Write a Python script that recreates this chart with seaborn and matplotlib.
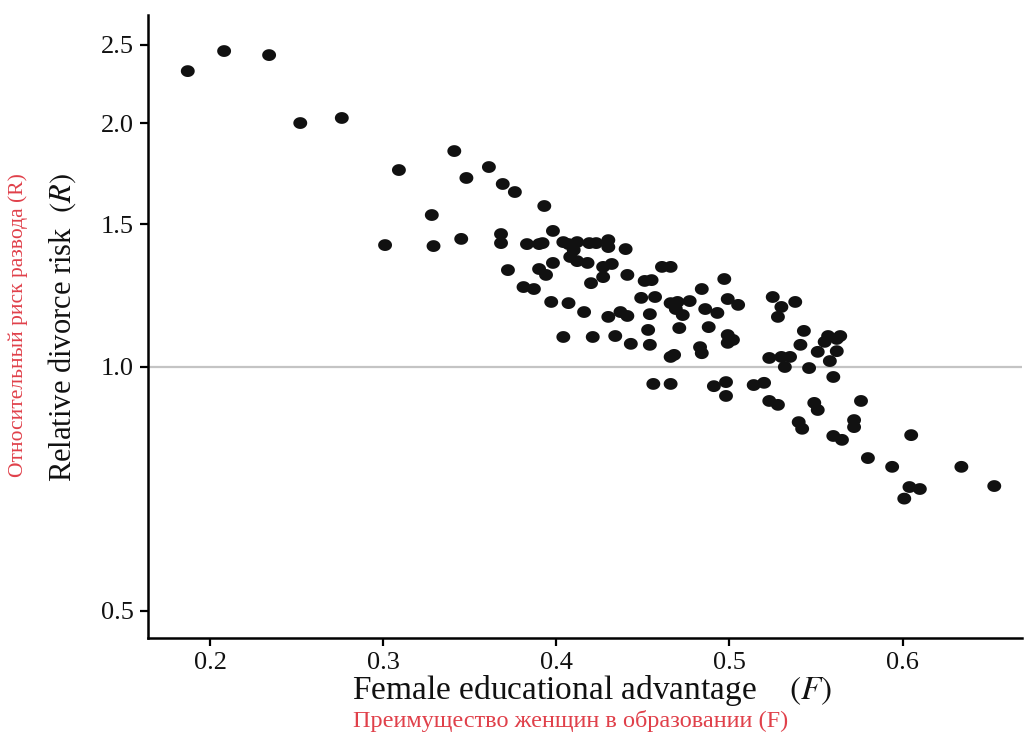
import numpy as np
import pandas as pd
import matplotlib
matplotlib.use("Agg")
import matplotlib.pyplot as plt
import seaborn as sns
from matplotlib.ticker import FixedLocator, FixedFormatter, NullLocator

# Female educational advantage (F)
F = [0.187, 0.208, 0.234, 0.252, 0.276, 0.309, 0.301, 0.341, 0.348, 0.361,
     0.369, 0.376, 0.393, 0.328, 0.398, 0.329, 0.345, 0.368, 0.368, 0.383,
     0.390, 0.392, 0.404, 0.407, 0.408, 0.412, 0.410, 0.412, 0.418, 0.419,
     0.423, 0.430, 0.430, 0.440, 0.398, 0.372, 0.390, 0.394, 0.427, 0.432,
     0.427, 0.420, 0.441, 0.381, 0.387, 0.397, 0.407, 0.416, 0.430, 0.437,
     0.441, 0.451, 0.455, 0.461, 0.466, 0.449, 0.457, 0.466, 0.470, 0.469,
     0.473, 0.477, 0.484, 0.497, 0.499, 0.505, 0.486, 0.493, 0.454, 0.488,
     0.471, 0.453, 0.434, 0.443, 0.454, 0.404, 0.421, 0.499, 0.499, 0.502,
     0.466, 0.468, 0.483, 0.484, 0.456, 0.466, 0.491, 0.498, 0.498, 0.525,
     0.530, 0.528, 0.538, 0.543, 0.541, 0.523, 0.530, 0.535, 0.532, 0.546,
     0.551, 0.557, 0.555, 0.562, 0.564, 0.562, 0.558, 0.560, 0.514, 0.520,
     0.523, 0.528, 0.549, 0.551, 0.540, 0.542, 0.576, 0.572, 0.572, 0.560,
     0.565, 0.605, 0.580, 0.594, 0.634, 0.604, 0.610, 0.601, 0.653]

# Relative divorce risk (R)
R = [2.318, 2.454, 2.426, 2.000, 2.029, 1.750, 1.414, 1.847, 1.711, 1.765,
     1.682, 1.644, 1.580, 1.540, 1.472, 1.410, 1.439, 1.459, 1.422, 1.418,
     1.418, 1.422, 1.426, 1.418, 1.367, 1.426, 1.394, 1.351, 1.344, 1.422,
     1.422, 1.434, 1.406, 1.398, 1.344, 1.317, 1.321, 1.299, 1.329, 1.340,
     1.291, 1.269, 1.299, 1.255, 1.248, 1.203, 1.199, 1.169, 1.153, 1.169,
     1.156, 1.277, 1.280, 1.329, 1.329, 1.217, 1.220, 1.199, 1.203, 1.179,
     1.159, 1.206, 1.248, 1.284, 1.213, 1.193, 1.179, 1.166, 1.162, 1.120,
     1.117, 1.111, 1.092, 1.068, 1.065, 1.089, 1.089, 1.095, 1.071, 1.080,
     1.029, 1.035, 1.058, 1.040, 0.953, 0.953, 0.947, 0.958, 0.921, 1.220,
     1.186, 1.153, 1.203, 1.108, 1.065, 1.026, 1.029, 1.029, 1.000, 0.997,
     1.044, 1.092, 1.074, 1.083, 1.092, 1.046, 1.017, 0.972, 0.950, 0.956,
     0.908, 0.898, 0.903, 0.885, 0.855, 0.839, 0.908, 0.860, 0.843, 0.822,
     0.813, 0.824, 0.772, 0.753, 0.753, 0.711, 0.707, 0.688, 0.713]

y_ticks = [0.5, 1.0, 1.5, 2.0, 2.5]
y_tick_labels = ["0.5", "1.0", "1.5", "2.0", "2.5"]
x_ticks = [0.2, 0.3, 0.4, 0.5, 0.6]
x_tick_labels = ["0.2", "0.3", "0.4", "0.5", "0.6"]

x_label = "Female educational advantage    $(F)$"
y_label = "Relative divorce risk  $(R)$"
x_label_ru = "Преимущество женщин в образовании (F)"
y_label_ru = "Относительный риск развода (R)"

sns.set_style("ticks")
plt.rcParams['font.family'] = ['Liberation Serif', 'DejaVu Serif']
plt.rcParams['mathtext.fontset'] = 'stix'

fig = plt.figure(figsize=(10.24, 7.34), dpi=100)
ax = fig.add_axes([0.1445, 0.1308, 0.8535, 0.849])

df = pd.DataFrame({"F": F, "R": R})
theta = np.linspace(0, 2 * np.pi, 64)
ellipse = np.column_stack([np.cos(theta), 0.85 * np.sin(theta)])
sns.scatterplot(data=df, x="F", y="R", ax=ax, marker=ellipse, s=100,
                color="#111111", edgecolor="none", linewidth=0, zorder=3)

ax.set_yscale("log")
ax.axhline(1.0, color="#c4c4c4", lw=1.6, zorder=1)
ax.set_xlim(0.164, 0.669)
ax.set_ylim(0.463, 2.72)

ax.yaxis.set_major_locator(FixedLocator(y_ticks))
ax.yaxis.set_major_formatter(FixedFormatter(y_tick_labels))
ax.yaxis.set_minor_locator(NullLocator())
ax.xaxis.set_major_locator(FixedLocator(x_ticks))
ax.xaxis.set_major_formatter(FixedFormatter(x_tick_labels))

ax.tick_params(axis="both", direction="out", length=6, width=1.6,
               labelsize=19, color="black", labelcolor="#111111", pad=4)
for side in ["left", "bottom"]:
    ax.spines[side].set_linewidth(1.8)
    ax.spines[side].set_color("black")
sns.despine(ax=ax)

ax.set_xlabel("")
ax.set_ylabel("")
fig.text(592 / 1024, 1 - 690 / 734, x_label, ha="center", va="center",
         fontsize=24, color="#111111")
fig.text(62 / 1024, 1 - 328 / 734, y_label, ha="center", va="center",
         rotation=90, fontsize=22, color="#111111")
fig.text(571 / 1024, 1 - 721 / 734, x_label_ru, ha="center", va="center",
         fontsize=17.5, color="#e0404a")
fig.text(18 / 1024, 1 - 325 / 734, y_label_ru, ha="center", va="center",
         rotation=90, fontsize=15.5, color="#e0404a")

fig.savefig("out.png", dpi=100)
